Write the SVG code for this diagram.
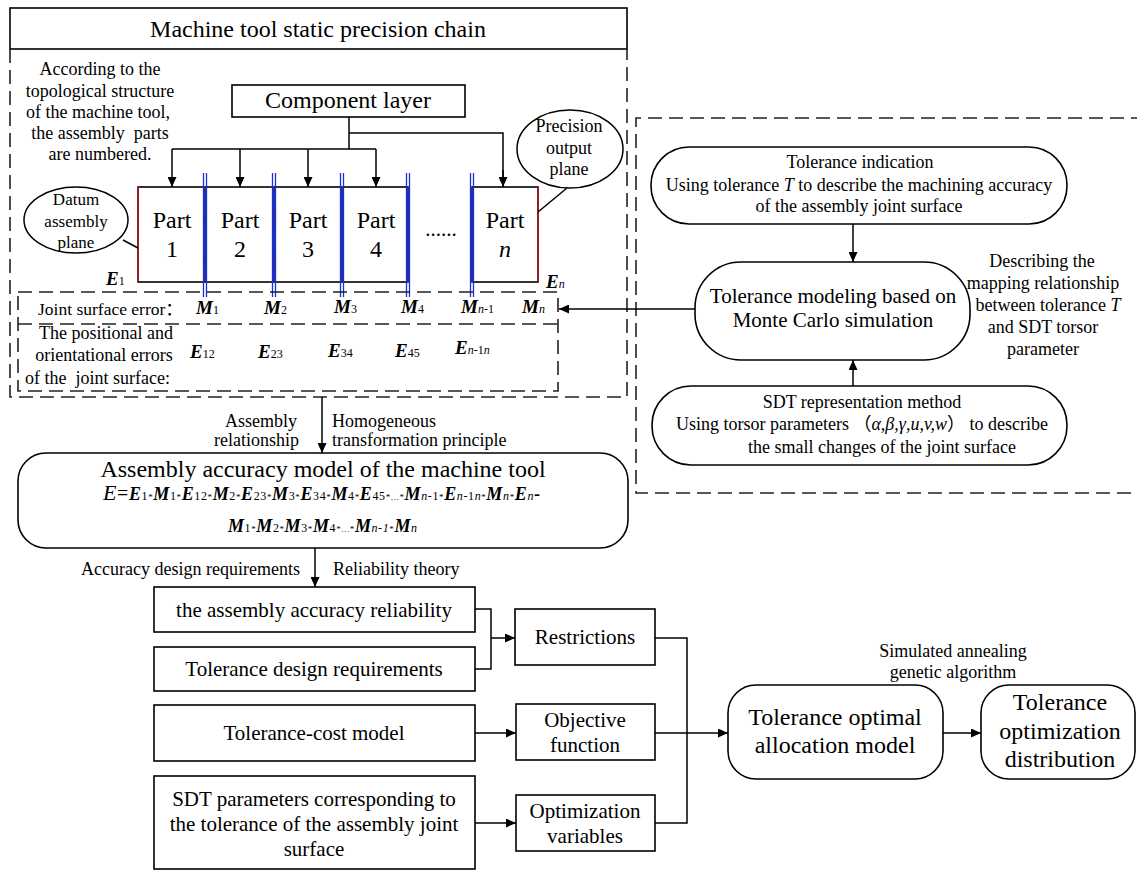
<svg xmlns="http://www.w3.org/2000/svg" width="1137" height="870" viewBox="0 0 1137 870" font-family="'Liberation Serif', serif">
<style>
text { font-family: 'Liberation Serif', serif; fill: #000; }
.cjk { font-family: 'Liberation Serif', 'Noto Sans CJK SC', serif; }
.c { text-anchor: middle; }
.box { fill: #fff; stroke: #000; stroke-width: 1.6; }
.dash { fill: none; stroke: #222; stroke-width: 1.6; stroke-dasharray: 14 7; }
.ln { fill: none; stroke: #000; stroke-width: 1.5; }
.bi { font-weight: bold; font-style: italic; }
.sb { font-size: 12px; font-weight: normal; font-style: normal; }
.si { font-size: 12px; font-weight: normal; font-style: italic; }
.st { font-size: 9px; font-weight: normal; font-style: normal; }
.blue { stroke: #1a2fd6; stroke-width: 1.3; fill: none; }
.red { stroke: #b01818; stroke-width: 1.6; fill: none; }
</style>
<defs>
<marker id="ah" markerWidth="10" markerHeight="9" refX="10" refY="4.5" orient="auto" markerUnits="userSpaceOnUse">
<path d="M0,0 L10,4.5 L0,9 z" fill="#000"/>
</marker>
</defs>
<rect width="1137" height="870" fill="#fff"/>

<g id="precision-chain-frame">
<rect x="10" y="8" width="617" height="41" fill="none" stroke="#000" stroke-width="1.6"/>
<path class="dash" d="M10,49 V397 H627 V49"/>
<text x="318" y="37" class="c" font-size="24">Machine tool static precision chain</text>
</g>

<g id="numbering-note">
<text x="100" y="75" class="c" font-size="18">According to the</text>
<text x="100" y="97" class="c" font-size="18">topological structure</text>
<text x="98" y="118" class="c" font-size="18">of the machine tool,</text>
<text x="100" y="139" class="c" font-size="18" xml:space="preserve">the assembly  parts</text>
<text x="100" y="160" class="c" font-size="18">are numbered.</text>
</g>

<g id="component-layer">
<rect class="box" x="232" y="85" width="233" height="32"/>
<text x="348" y="108" class="c" font-size="24">Component layer</text>
</g>

<g id="parts">
<rect class="box" x="138" y="187" width="270" height="95"/>
<rect class="box" x="472" y="187" width="66" height="95"/>
<line class="red" x1="138" y1="187" x2="138" y2="282"/>
<line class="red" x1="538" y1="187" x2="538" y2="282"/>
<g class="blue">
<path d="M203.5,173 V297 M206.5,173 V297"/>
<path d="M272.5,173 V297 M275.5,173 V297"/>
<path d="M340.5,173 V297 M343.5,173 V297"/>
<path d="M406.5,173 V297 M409.5,173 V297"/>
<path d="M470.5,173 V297 M473.5,173 V297"/>
</g>
<path d="M205,187 V282 M274,187 V282 M342,187 V282 M408,187 V282 M472,187 V282" stroke="#1a2fd6" stroke-width="3" fill="none"/>
<path d="M205,187 V282 M274,187 V282 M342,187 V282 M408,187 V282 M472,187 V282" stroke="#333" stroke-width="1" stroke-dasharray="6 4" fill="none"/>
<text x="172" y="228" class="c" font-size="24">Part</text>
<text x="172" y="257" class="c" font-size="24">1</text>
<text x="240" y="228" class="c" font-size="24">Part</text>
<text x="240" y="257" class="c" font-size="24">2</text>
<text x="308" y="228" class="c" font-size="24">Part</text>
<text x="308" y="257" class="c" font-size="24">3</text>
<text x="376" y="228" class="c" font-size="24">Part</text>
<text x="376" y="257" class="c" font-size="24">4</text>
<text x="505" y="228" class="c" font-size="24">Part</text>
<text x="505" y="257" class="c" font-size="24" font-style="italic">n</text>
<text x="441" y="236" class="c" font-size="21">......</text>
</g>

<g id="datum-plane">
<ellipse cx="76" cy="220" rx="52" ry="33" fill="#fff" stroke="#000" stroke-width="1.5"/>
<text x="76" y="205" class="c" font-size="17">Datum</text>
<text x="76" y="227" class="c" font-size="17">assembly</text>
<text x="76" y="248" class="c" font-size="17">plane</text>
</g>

<g id="output-plane">
<ellipse cx="570" cy="149" rx="53" ry="39" fill="#fff" stroke="#000" stroke-width="1.5"/>
<text x="569" y="132" class="c" font-size="18">Precision</text>
<text x="569" y="154" class="c" font-size="18">output</text>
<text x="569" y="175" class="c" font-size="18">plane</text>
</g>

<g id="end-labels">
<text x="106" y="285" font-size="19"><tspan class="bi">E</tspan><tspan class="sb">1</tspan></text>
<text x="546" y="288" font-size="19"><tspan class="bi">E</tspan><tspan class="si">n</tspan></text>
</g>

<g id="error-table">
<rect class="dash" x="18" y="292" width="540" height="99"/>
<line class="dash" x1="18" y1="324" x2="558" y2="324"/>
<text x="38" y="315" font-size="17.5" class="cjk">Joint surface error：</text>
<text x="196" y="314" font-size="19"><tspan class="bi">M</tspan><tspan class="sb">1</tspan></text>
<text x="264" y="314" font-size="19"><tspan class="bi">M</tspan><tspan class="sb">2</tspan></text>
<text x="334" y="313" font-size="19"><tspan class="bi">M</tspan><tspan class="sb">3</tspan></text>
<text x="401" y="313" font-size="19"><tspan class="bi">M</tspan><tspan class="sb">4</tspan></text>
<text x="461" y="313" font-size="19"><tspan class="bi">M</tspan><tspan class="si">n</tspan><tspan class="sb">-1</tspan></text>
<text x="522" y="313" font-size="19"><tspan class="bi">M</tspan><tspan class="si">n</tspan></text>
<text x="106" y="339" class="c" font-size="18">The positional and</text>
<text x="104" y="361" class="c" font-size="18">orientational errors</text>
<text x="25" y="384" font-size="18" xml:space="preserve">of the  joint surface:</text>
<text x="190" y="358" font-size="19"><tspan class="bi">E</tspan><tspan class="sb">12</tspan></text>
<text x="258" y="358" font-size="19"><tspan class="bi">E</tspan><tspan class="sb">23</tspan></text>
<text x="328" y="357" font-size="19"><tspan class="bi">E</tspan><tspan class="sb">34</tspan></text>
<text x="395" y="357" font-size="19"><tspan class="bi">E</tspan><tspan class="sb">45</tspan></text>
<text x="455" y="354" font-size="19"><tspan class="bi">E</tspan><tspan class="si">n</tspan><tspan class="sb">-1</tspan><tspan class="si">n</tspan></text>
</g>

<g id="tolerance-frame">
<path class="dash" d="M1145,118 H636 V493 H1145"/>
</g>

<g id="tolerance-indication">
<rect class="box" x="651" y="147" width="416" height="77" rx="38" ry="38"/>
<text x="860" y="168" class="c" font-size="18">Tolerance indication</text>
<text x="859" y="191" class="c" font-size="18">Using tolerance <tspan font-style="italic">T</tspan> to describe the machining accuracy</text>
<text x="859" y="212" class="c" font-size="18">of the assembly joint surface</text>
</g>

<g id="tolerance-modeling">
<rect class="box" x="695" y="262" width="275" height="98" rx="46" ry="46"/>
<text x="833" y="303" class="c" font-size="21">Tolerance modeling based on</text>
<text x="833" y="327" class="c" font-size="21">Monte Carlo simulation</text>
</g>

<g id="mapping-note">
<text x="1042" y="267" class="c" font-size="18">Describing the</text>
<text x="1043" y="289" class="c" font-size="18">mapping relationship</text>
<text x="1048" y="311" class="c" font-size="18">between tolerance <tspan font-style="italic">T</tspan></text>
<text x="1043" y="333" class="c" font-size="18">and SDT torsor</text>
<text x="1043" y="355" class="c" font-size="18">parameter</text>
</g>

<g id="sdt-method">
<rect class="box" x="652" y="386" width="415" height="79" rx="39" ry="39"/>
<text x="862" y="408" class="c" font-size="18">SDT representation method</text>
<text x="862" y="430" class="c cjk" font-size="18">Using torsor parameters （<tspan font-style="italic">α,β,γ,u,v,w</tspan>） to describe</text>
<text x="882" y="453" class="c" font-size="18">the small changes of the joint surface</text>
</g>

<g id="assembly-model">
<rect class="box" x="18" y="453" width="610" height="95" rx="28" ry="28"/>
<text x="323" y="477" class="c" font-size="24">Assembly accuracy model of the machine tool</text>
<text x="103" y="500" font-size="18" textLength="437" lengthAdjust="spacing"><tspan font-style="italic" font-size="22">E</tspan><tspan font-size="20">=</tspan><tspan class="bi">E</tspan><tspan class="sb">1</tspan><tspan class="st">*</tspan><tspan class="bi">M</tspan><tspan class="sb">1</tspan><tspan class="st">*</tspan><tspan class="bi">E</tspan><tspan class="sb">12</tspan><tspan class="st">*</tspan><tspan class="bi">M</tspan><tspan class="sb">2</tspan><tspan class="st">*</tspan><tspan class="bi">E</tspan><tspan class="sb">23</tspan><tspan class="st">*</tspan><tspan class="bi">M</tspan><tspan class="sb">3</tspan><tspan class="st">*</tspan><tspan class="bi">E</tspan><tspan class="sb">34</tspan><tspan class="st">*</tspan><tspan class="bi">M</tspan><tspan class="sb">4</tspan><tspan class="st">*</tspan><tspan class="bi">E</tspan><tspan class="sb">45</tspan><tspan class="st">*...*</tspan><tspan class="bi">M</tspan><tspan class="si">n</tspan><tspan class="sb">-1</tspan><tspan class="st">*</tspan><tspan class="bi">E</tspan><tspan class="si">n</tspan><tspan class="sb">-1</tspan><tspan class="si">n</tspan><tspan class="st">*</tspan><tspan class="bi">M</tspan><tspan class="si">n</tspan><tspan class="st">*</tspan><tspan class="bi">E</tspan><tspan class="si">n</tspan><tspan font-weight="bold">-</tspan></text>
<text x="228" y="532" font-size="18" textLength="189" lengthAdjust="spacing"><tspan class="bi">M</tspan><tspan class="sb">1</tspan><tspan class="st">*</tspan><tspan class="bi">M</tspan><tspan class="sb">2</tspan><tspan class="st">*</tspan><tspan class="bi">M</tspan><tspan class="sb">3</tspan><tspan class="st">*</tspan><tspan class="bi">M</tspan><tspan class="sb">4</tspan><tspan class="st">*...*</tspan><tspan class="bi">M</tspan><tspan class="si">n-1</tspan><tspan class="st">*</tspan><tspan class="bi">M</tspan><tspan class="si">n</tspan></text>
</g>

<g id="flow-labels">
<text x="297" y="427" font-size="18" text-anchor="end">Assembly</text>
<text x="299" y="446" font-size="18" text-anchor="end">relationship</text>
<text x="332" y="427" font-size="18">Homogeneous</text>
<text x="332" y="446" font-size="18">transformation principle</text>
<text x="300" y="575" font-size="18" text-anchor="end">Accuracy design requirements</text>
<text x="333" y="575" font-size="18">Reliability theory</text>
<text x="953" y="657" class="c" font-size="18">Simulated annealing</text>
<text x="953" y="678" class="c" font-size="18">genetic algorithm</text>
</g>

<g id="reliability">
<rect class="box" x="154" y="587" width="321" height="45"/>
<text x="314" y="617" class="c" font-size="21">the assembly accuracy reliability</text>
</g>
<g id="tolerance-design">
<rect class="box" x="154" y="647" width="321" height="44"/>
<text x="314" y="676" class="c" font-size="21">Tolerance design requirements</text>
</g>
<g id="tolerance-cost">
<rect class="box" x="154" y="705" width="321" height="56"/>
<text x="314" y="740" class="c" font-size="21">Tolerance-cost model</text>
</g>
<g id="sdt-parameters">
<rect class="box" x="154" y="776" width="321" height="93"/>
<text x="314" y="806" class="c" font-size="21">SDT parameters corresponding to</text>
<text x="314" y="831" class="c" font-size="21">the tolerance of the assembly joint</text>
<text x="314" y="856" class="c" font-size="21">surface</text>
</g>
<g id="restrictions">
<rect class="box" x="515" y="609" width="140" height="56"/>
<text x="585" y="644" class="c" font-size="21">Restrictions</text>
</g>
<g id="objective">
<rect class="box" x="516" y="704" width="139" height="56"/>
<text x="585" y="727" class="c" font-size="21">Objective</text>
<text x="585" y="752" class="c" font-size="21">function</text>
</g>
<g id="variables">
<rect class="box" x="516" y="795" width="139" height="56"/>
<text x="585" y="818" class="c" font-size="21">Optimization</text>
<text x="585" y="843" class="c" font-size="21">variables</text>
</g>
<g id="allocation-model">
<rect class="box" x="728" y="685" width="215" height="94" rx="28" ry="28"/>
<text x="835" y="725" class="c" font-size="24">Tolerance optimal</text>
<text x="835" y="753" class="c" font-size="24">allocation model</text>
</g>
<g id="optimization-distribution">
<rect class="box" x="981" y="685" width="154" height="94" rx="28" ry="28"/>
<text x="1060" y="710" class="c" font-size="24">Tolerance</text>
<text x="1060" y="739" class="c" font-size="24">optimization</text>
<text x="1060" y="767" class="c" font-size="24">distribution</text>
</g>

<g id="connectors">
<path class="ln" d="M349,117 V149 M349,133 H503 V186"/>
<path class="ln" d="M172,149 H376"/>
<line class="ln" x1="172" y1="149" x2="172" y2="187" marker-end="url(#ah)"/>
<line class="ln" x1="240" y1="149" x2="240" y2="187" marker-end="url(#ah)"/>
<line class="ln" x1="308" y1="149" x2="308" y2="187" marker-end="url(#ah)"/>
<line class="ln" x1="376" y1="149" x2="376" y2="187" marker-end="url(#ah)"/>
<line class="ln" x1="503" y1="170" x2="503" y2="187" marker-end="url(#ah)"/>
<line class="ln" x1="123" y1="240" x2="138" y2="248"/>
<line class="ln" x1="567" y1="188" x2="538" y2="212"/>
<line class="ln" x1="853" y1="224" x2="853" y2="262" marker-end="url(#ah)"/>
<line class="ln" x1="853" y1="386" x2="853" y2="360" marker-end="url(#ah)"/>
<line class="ln" x1="695" y1="309" x2="559" y2="309" marker-end="url(#ah)"/>
<line class="ln" x1="322" y1="397" x2="322" y2="453" marker-end="url(#ah)"/>
<line class="ln" x1="315" y1="548" x2="315" y2="587" marker-end="url(#ah)"/>
<path class="ln" d="M475,609 H491 V669 H475"/>
<line class="ln" x1="491" y1="638" x2="515" y2="638" marker-end="url(#ah)"/>
<line class="ln" x1="475" y1="733" x2="516" y2="733" marker-end="url(#ah)"/>
<line class="ln" x1="475" y1="823" x2="516" y2="823" marker-end="url(#ah)"/>
<path class="ln" d="M655,638 H687 V823 H655 M655,733 H687"/>
<line class="ln" x1="687" y1="733" x2="728" y2="733" marker-end="url(#ah)"/>
<line class="ln" x1="943" y1="733" x2="981" y2="733" marker-end="url(#ah)"/>
</g>
</svg>
